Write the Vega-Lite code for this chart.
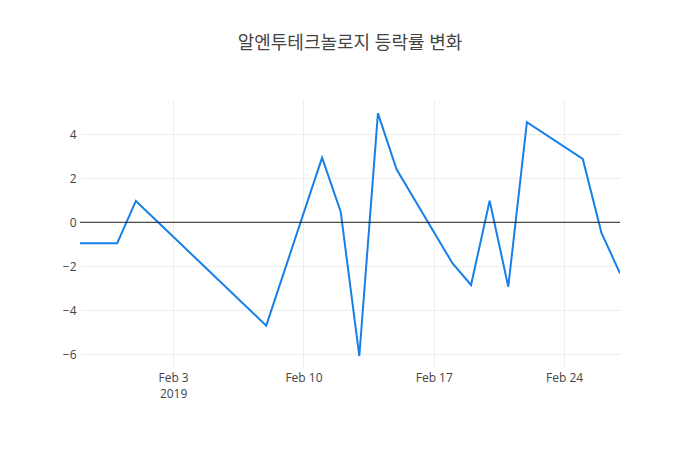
{
  "$schema": "https://vega.github.io/schema/vega-lite/v6.json",
  "width": 540,
  "height": 267,
  "autosize": "none",
  "padding": {"left": 80, "top": 100, "right": 80, "bottom": 83},
  "background": "white",
  "title": {
    "text": "알엔투테크놀로지 등락률 변화",
    "font": "Open Sans, Noto Sans CJK KR",
    "fontSize": 18,
    "fontWeight": "normal",
    "color": "#444",
    "anchor": "middle",
    "frame": "group",
    "offset": 47
  },
  "config": {
    "view": {"stroke": null},
    "axis": {
      "labelFont": "Open Sans",
      "labelFontSize": 12,
      "labelColor": "#444",
      "gridColor": "#eeeeee",
      "gridWidth": 1,
      "domain": false,
      "ticks": false,
      "title": null
    }
  },
  "layer": [
    {
      "data": {
        "values": [
          {"date": "2019-01-29", "rate": -0.95},
          {"date": "2019-01-31", "rate": -0.95},
          {"date": "2019-02-01", "rate": 0.97},
          {"date": "2019-02-08", "rate": -4.7},
          {"date": "2019-02-11", "rate": 2.94},
          {"date": "2019-02-12", "rate": 0.48},
          {"date": "2019-02-13", "rate": -6.08},
          {"date": "2019-02-14", "rate": 4.95},
          {"date": "2019-02-15", "rate": 2.41},
          {"date": "2019-02-18", "rate": -1.86},
          {"date": "2019-02-19", "rate": -2.85},
          {"date": "2019-02-20", "rate": 0.98},
          {"date": "2019-02-21", "rate": -2.93},
          {"date": "2019-02-22", "rate": 4.55},
          {"date": "2019-02-25", "rate": 2.88},
          {"date": "2019-02-26", "rate": -0.47},
          {"date": "2019-02-27", "rate": -2.32}
        ]
      },
      "mark": {"type": "line", "color": "#1680e8", "strokeWidth": 2, "clip": true},
      "encoding": {
        "x": {
          "field": "date",
          "type": "temporal",
          "scale": {"type": "utc", "nice": false, "padding": 0},
          "axis": {
            "values": [
              {"year": 2019, "month": 2, "date": 3, "utc": true},
              {"year": 2019, "month": 2, "date": 10, "utc": true},
              {"year": 2019, "month": 2, "date": 17, "utc": true},
              {"year": 2019, "month": 2, "date": 24, "utc": true}
            ],
            "labelPadding": 5,
            "labelLineHeight": 16,
            "labelExpr": "utcdate(datum.value) == 3 ? [utcFormat(datum.value, '%b %-d'), '2019'] : utcFormat(datum.value, '%b %-d')"
          }
        },
        "y": {
          "field": "rate",
          "type": "quantitative",
          "scale": {"domain": [-6.58, 5.56], "nice": false, "zero": false},
          "axis": {"values": [-6, -4, -2, 0, 2, 4], "labelPadding": 4}
        }
      }
    },
    {
      "data": {"values": [{"zero": 0}]},
      "mark": {"type": "rule", "color": "#222", "strokeWidth": 1},
      "encoding": {
        "y": {"field": "zero", "type": "quantitative"}
      }
    }
  ]
}
